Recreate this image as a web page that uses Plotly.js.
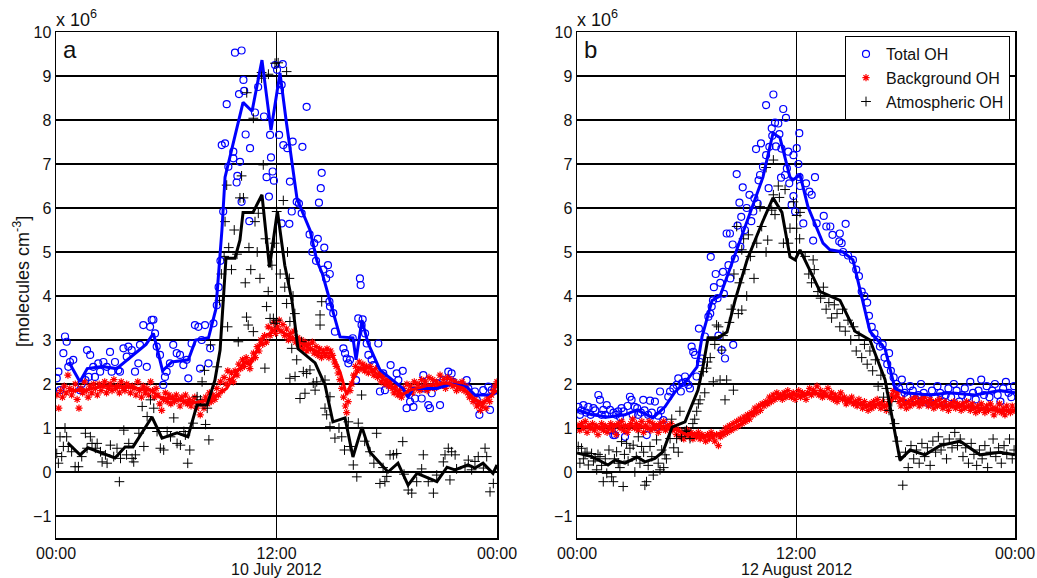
<!DOCTYPE html>
<html><head><meta charset="utf-8">
<script src="https://cdn.plot.ly/plotly-3.0.1.min.js"></script>
<style>html,body{margin:0;padding:0;background:#fff}#g{width:1037px;height:578px}</style>
</head><body><div id="g"></div>
<script>
// ---------- Panel a : 10 July 2012 (hours, 1e6 molecules cm-3) ----------
const totA_t = [0.04,0.13,0.22,0.4,0.49,0.58,0.67,0.76,0.94,1.31,1.4,1.6,1.69,1.78,1.86,2.03,2.12,2.3,2.4,2.58,2.76,2.94,3.03,3.21,3.39,3.48,3.67,3.85,3.94,4.12,4.3,4.48,4.57,4.75,4.94,5.12,5.21,5.3,5.39,5.48,5.66,5.84,5.93,6.02,6.2,6.38,6.57,6.75,6.93,7.11,7.2,7.38,7.56,7.75,7.84,7.93,8.11,8.3,8.39,8.57,8.75,8.85,8.95,9.02,9.1,9.2,9.29,9.38,9.65,9.65,9.74,9.83,9.87,9.96,10.01,10.1,10.1,10.2,10.24,10.32,10.52,10.56,10.83,11.0,11.32,11.46,11.59,11.65,11.7,11.79,11.86,11.92,12.03,12.14,12.19,12.28,12.28,12.34,12.37,12.59,12.7,12.73,12.83,12.88,13.1,13.22,13.37,13.41,13.64,13.8,13.95,14.05,14.15,14.25,14.31,14.41,14.46,14.55,14.6,14.7,14.8,14.88,14.9,14.91,15.09,15.18,15.64,15.73,15.82,15.91,16.0,16.15,16.33,16.45,16.54,16.58,16.63,16.69,16.82,16.91,17.0,17.18,17.27,17.54,17.63,17.81,17.9,18.21,18.54,18.63,18.87,19.08,19.27,19.45,19.54,19.9,19.99,20.05,20.26,20.35,20.45,20.72,20.9,21.08,21.35,21.53,21.62,21.99,22.35,22.44,22.8,22.9,23.04,23.25,23.53,23.62,23.71,23.89];
const totA_v = [2.13,2.28,1.86,2.7,3.08,2.96,2.39,2.5,2.55,1.86,2.0,2.09,2.77,2.16,2.66,2.39,2.16,2.47,2.28,2.5,2.39,2.73,2.28,2.5,2.31,2.28,2.81,2.62,2.85,2.77,2.28,2.47,2.89,3.34,2.39,3.3,3.46,3.46,3.15,2.85,2.66,1.98,2.16,2.28,2.47,2.89,2.7,2.66,2.43,2.55,2.13,2.92,3.34,3.3,2.35,3.0,3.34,2.47,2.81,3.38,3.79,4.2,4.8,7.43,5.92,7.47,8.36,6.94,7.28,7.13,9.53,6.58,6.73,8.59,7.05,9.58,6.14,8.91,8.66,7.67,5.7,7.36,8.17,8.75,8.08,6.7,6.26,7.66,7.15,6.83,6.62,9.25,9.14,7.66,8.68,8.8,5.65,9.27,7.43,7.36,5.64,6.6,5.92,7.51,6.14,6.1,5.88,7.39,8.3,5.4,5.0,5.2,4.8,5.3,6.12,6.45,6.8,4.6,5.1,4.4,4.7,3.87,4.5,3.76,3.61,3.19,2.81,2.7,2.58,2.47,2.55,3.04,2.09,3.49,4.4,4.25,3.34,3.47,3.15,2.92,2.66,2.55,2.43,2.92,1.83,2.24,1.86,2.43,2.24,2.09,2.3,1.45,1.6,1.48,1.67,1.67,2.2,1.9,1.52,1.45,1.79,2.02,1.52,2.09,2.28,2.24,2.05,1.98,2.09,1.9,1.83,1.64,1.3,1.86,1.94,1.41,1.86,1.9];

const bgA_t = [0.05,0.15,0.25,0.35,0.45,0.55,0.65,0.75,0.85,0.95,1.05,1.15,1.25,1.35,1.45,1.55,1.65,1.75,1.85,1.95,2.05,2.15,2.25,2.35,2.45,2.55,2.65,2.75,2.85,2.95,3.05,3.15,3.25,3.35,3.45,3.55,3.65,3.75,3.85,3.95,4.05,4.15,4.25,4.35,4.45,4.55,4.65,4.75,4.85,4.95,5.05,5.15,5.25,5.35,5.45,5.55,5.65,5.75,5.85,5.95,6.05,6.15,6.25,6.35,6.45,6.55,6.65,6.75,6.85,6.95,7.05,7.15,7.25,7.35,7.45,7.55,7.65,7.75,7.85,7.95,8.05,8.15,8.25,8.35,8.45,8.55,8.65,8.75,8.85,8.95,9.05,9.15,9.25,9.35,9.45,9.55,9.65,9.75,9.85,9.95,10.05,10.15,10.25,10.35,10.45,10.55,10.65,10.75,10.85,10.95,11.05,11.15,11.25,11.35,11.45,11.55,11.65,11.75,11.85,11.95,12.05,12.15,12.25,12.35,12.45,12.55,12.65,12.75,12.85,12.95,13.05,13.15,13.25,13.35,13.45,13.55,13.65,13.75,13.85,13.95,14.05,14.15,14.25,14.35,14.45,14.55,14.65,14.75,14.85,14.95,15.05,15.15,15.25,15.35,15.45,15.55,15.65,15.75,15.82,15.9,16.0,16.1,16.2,16.3,16.4,16.5,16.6,16.7,16.8,16.9,17.0,17.1,17.2,17.3,17.4,17.5,17.6,17.7,17.8,17.9,18.0,18.1,18.2,18.3,18.4,18.5,18.6,18.7,18.8,18.9,19.0,19.1,19.2,19.3,19.4,19.5,19.6,19.7,19.8,19.9,20.0,20.1,20.2,20.3,20.4,20.5,20.6,20.7,20.8,20.9,21.0,21.1,21.2,21.3,21.4,21.5,21.6,21.7,21.8,21.9,22.0,22.1,22.2,22.3,22.4,22.5,22.6,22.7,22.8,22.9,23.0,23.1,23.2,23.3,23.4,23.5,23.6,23.7,23.8,23.9,24.0];
const bgA_v = [1.75,1.45,1.85,1.7,1.95,1.8,2.2,1.9,1.75,1.85,2.0,1.65,1.45,1.9,1.8,2.05,1.85,1.7,1.95,1.8,2.0,1.9,1.75,2.0,1.85,1.95,2.05,1.8,1.9,2.0,1.85,2.1,1.9,1.95,1.8,2.05,1.9,1.85,2.0,1.95,1.8,1.95,1.9,1.75,2.05,1.85,1.7,1.95,1.8,1.9,1.75,2.05,1.85,1.7,1.9,1.75,1.55,1.4,1.65,1.8,1.6,1.75,1.55,1.7,1.6,1.75,1.65,1.5,1.7,1.6,1.75,1.55,1.65,1.5,1.6,1.7,1.45,1.55,1.3,1.6,1.45,1.7,1.55,1.8,1.6,1.75,1.65,1.9,1.75,2.05,1.85,2.15,2.0,2.3,2.1,2.25,2.05,2.3,2.2,2.45,2.35,2.55,2.4,2.6,2.5,2.35,2.55,2.7,2.6,2.85,2.75,3.0,2.9,3.1,2.95,3.3,3.1,3.25,3.4,3.15,3.3,3.45,3.2,3.35,3.1,3.25,3.0,3.15,3.05,3.2,2.95,3.05,2.85,3.0,2.8,2.95,2.75,2.9,2.8,2.95,2.7,2.85,2.65,2.8,2.6,2.75,2.65,2.8,2.6,2.75,2.65,2.5,2.4,2.25,2.1,1.9,1.7,1.5,1.35,1.6,1.85,2.0,2.2,2.4,2.3,2.5,2.35,2.45,2.3,2.4,2.25,2.4,2.3,2.2,2.35,2.15,2.25,2.05,2.2,2.0,2.1,1.95,2.05,1.9,1.8,1.95,1.75,1.85,1.7,1.9,1.8,2.0,1.85,1.95,1.8,2.05,1.9,2.0,1.85,2.1,1.95,2.05,1.85,2.15,1.95,2.1,1.9,2.05,1.95,2.2,2.0,2.1,1.9,2.15,2.0,2.1,1.95,2.05,1.85,2.0,1.9,2.05,1.85,1.95,1.8,1.7,1.75,1.6,1.65,1.5,1.55,1.4,1.5,1.6,1.45,1.7,1.6,1.75,1.85,1.95,2.05];

const atmA_t = [0.04,0.13,0.22,0.31,0.4,0.49,0.58,0.67,0.85,1.04,1.22,1.4,1.6,1.69,1.87,1.96,2.14,2.24,2.42,2.51,2.69,2.78,2.96,3.14,3.32,3.45,3.51,3.69,3.84,3.96,4.14,4.23,4.32,4.51,4.69,4.78,4.96,5.14,5.32,5.5,5.68,5.86,6.05,6.23,6.41,6.59,6.77,6.96,7.04,7.17,7.28,7.46,7.68,7.86,7.95,8.08,8.14,8.23,8.32,8.41,8.77,8.9,9.0,9.15,9.2,9.29,9.34,9.4,9.55,9.7,9.85,9.92,10.01,10.1,10.2,10.3,10.37,10.38,10.46,10.5,10.6,10.74,10.74,10.83,10.95,11.01,11.1,11.19,11.19,11.28,11.37,11.4,11.46,11.55,11.56,11.65,11.75,11.83,11.9,11.92,11.92,12.0,12.01,12.09,12.2,12.37,12.45,12.55,12.55,12.6,12.7,12.73,12.73,12.83,12.9,13.0,13.01,13.1,13.28,13.37,13.46,13.55,13.64,13.82,14.0,14.1,14.19,14.37,14.37,14.46,14.64,14.64,14.73,14.91,14.91,15.18,15.4,15.55,15.7,15.91,16.0,16.18,16.37,16.45,16.63,16.8,17.09,17.3,17.45,17.63,17.8,17.9,18.0,18.18,18.36,18.54,18.87,18.94,19.17,19.36,19.63,19.9,19.99,20.26,20.54,20.72,21.08,21.17,21.35,21.44,21.53,21.72,21.8,22.26,22.44,22.62,22.8,22.98,23.26,23.35,23.44,23.62,23.8];
const atmA_v = [0.42,0.2,0.8,0.35,0.58,1.0,0.8,0.58,0.46,0.12,0.12,0.35,0.88,0.54,0.8,0.65,0.54,0.65,0.46,0.23,0.39,0.2,0.61,0.35,0.54,-0.22,0.31,0.95,0.39,0.65,0.31,0.23,0.39,0.88,1.49,0.58,1.26,1.64,1.45,0.92,0.54,0.5,0.92,0.8,1.23,0.65,0.61,0.92,0.84,0.2,0.5,1.11,1.71,1.64,2.05,2.31,1.08,1.45,0.73,2.89,2.39,3.9,4.5,4.9,5.69,6.52,3.3,5.1,4.6,5.5,4.95,2.96,6.23,6.73,6.23,4.3,3.52,8.62,3.34,5.1,4.6,8.04,3.19,5.69,5.0,5.88,4.4,9.08,8.95,6.98,2.36,5.3,3.76,4.1,9.04,3.49,4.7,3.49,5.2,9.29,3.38,3.45,5.92,9.3,4.5,6.17,4.2,9.1,3.83,5.0,4.4,3.42,2.13,2.81,4.0,3.6,2.17,2.55,1.67,2.96,2.28,1.79,2.24,2.32,2.02,1.86,2.05,3.57,3.34,3.87,2.09,1.45,1.3,1.71,1.03,0.77,1.0,0.8,0.5,1.14,0.58,0.16,-0.11,1.11,1.75,0.7,0.46,0.2,0.88,-0.26,0.1,-0.22,-0.1,0.39,0.39,0.42,0.69,-0.05,-0.41,-0.48,-0.22,0.07,0.39,-0.22,-0.48,-0.07,0.23,0.39,0.54,-0.18,0.46,0.39,0.07,0.12,0.27,0.05,0.24,0.35,0.09,0.54,0.35,-0.45,-0.26];

const totA_line_t = [0.7,1.3,1.7,2.5,3.3,4.0,4.9,5.3,5.8,6.3,7.2,7.6,8.3,8.7,9.03,9.2,10.18,10.67,11.21,11.7,12.19,12.52,13.12,13.82,14.2,14.5,14.91,15.46,16.16,16.33,16.65,16.98,17.63,18.88,19.16,19.43,20.73,21.55,22.37,22.8,23.62,24.0];
const totA_line_v = [2.5,2.05,2.35,2.4,2.35,2.6,2.9,3.15,2.3,2.5,2.55,3.0,3.05,3.7,5.5,6.7,8.4,8.2,9.36,7.77,9.07,8.0,6.2,5.5,4.8,4.5,3.9,3.07,3.05,2.55,3.45,2.93,2.32,1.9,1.7,1.9,1.9,2.0,1.93,1.75,1.75,1.8];
const bgA_line_t = [0.67,1.5,2.5,3.5,4.5,5.2,5.66,6.5,7.47,8.38,9.29,9.8,10.29,10.56,11.28,11.65,12.01,12.73,13.64,14.37,15.0,15.46,15.82,16.1,16.45,17.09,18.0,18.83,19.27,20.35,21.26,22.17,22.8,23.26,23.71,24.0];
const bgA_line_v = [1.85,1.85,1.95,1.95,1.9,1.85,1.7,1.65,1.57,1.64,1.9,2.25,2.5,2.43,3.07,3.15,3.27,3.07,2.85,2.7,2.7,2.27,1.75,2.05,2.36,2.36,2.05,1.75,1.86,1.98,2.02,1.91,1.64,1.57,1.75,1.86];
const atmA_line_t = [0.65,1.31,1.74,2.39,3.21,3.76,4.19,5.22,5.77,6.59,7.18,7.67,8.22,8.65,8.93,9.25,9.74,10.01,10.18,10.72,11.21,11.62,12.05,12.45,12.84,13.17,14.1,14.64,15.07,15.73,16.16,16.65,17.09,18.07,18.61,19.16,19.65,20.73,21.28,21.71,22.42,22.8,23.24,23.78,24.0];
const atmA_line_v = [0.66,0.39,0.55,0.45,0.32,0.57,0.57,1.25,0.77,0.89,0.8,1.52,1.52,2.09,2.77,4.86,4.86,5.27,5.9,5.9,6.3,4.65,5.93,4.7,3.9,2.8,2.48,1.98,1.14,1.23,0.34,1.02,0.45,0.0,0.2,-0.3,-0.03,-0.22,0.11,0.05,0.16,0.09,0.2,-0.03,0.16];

// ---------- Panel b : 12 August 2012 ----------
const totB_t = [0.07,0.16,0.25,0.35,0.5,0.62,0.75,0.9,1.0,1.17,1.26,1.35,1.44,1.55,1.63,1.81,1.9,1.99,2.0,2.08,2.15,2.26,2.35,2.44,2.55,2.63,2.77,2.9,2.99,3.05,3.17,3.3,3.35,3.5,3.63,3.7,3.82,3.9,4.0,4.1,4.27,4.36,4.45,4.55,4.6,4.73,5.0,5.1,5.28,5.46,5.55,5.69,5.75,5.92,5.97,6.1,6.19,6.28,6.37,6.47,6.55,6.68,6.74,6.83,7.01,7.2,7.3,7.33,7.38,7.45,7.5,7.6,7.7,7.75,7.85,7.93,8.0,8.05,8.11,8.2,8.3,8.38,8.4,8.53,8.56,8.65,8.75,8.8,8.9,8.95,9.0,9.08,9.2,9.3,9.45,9.55,9.66,9.72,9.81,9.9,9.95,10.03,10.08,10.19,10.36,10.36,10.5,10.54,10.67,10.7,10.76,10.85,10.9,11.03,11.09,11.18,11.2,11.3,11.4,11.45,11.5,11.58,11.63,11.76,11.86,11.86,11.95,12.04,12.13,12.18,12.19,12.22,12.4,12.55,12.73,12.86,12.94,13.04,13.13,13.52,13.66,13.88,14.0,14.37,14.4,14.5,14.58,14.72,14.85,15.12,15.3,15.45,15.6,15.75,15.9,16.0,16.15,16.3,16.45,16.6,16.75,16.85,17.0,17.1,17.2,17.35,17.5,17.65,17.8,17.95,18.1,18.25,18.4,18.55,18.7,18.85,19.0,19.15,19.3,19.45,19.6,19.75,19.9,20.05,20.2,20.35,20.5,20.65,20.8,20.95,21.1,21.25,21.4,21.55,21.7,21.85,22.0,22.15,22.3,22.45,22.6,22.75,22.9,23.05,23.2,23.35,23.5,23.65,23.8,23.95];
const totB_v = [1.48,1.3,1.4,1.52,1.35,1.48,1.3,1.45,1.4,1.75,1.64,1.3,1.41,1.3,1.52,1.41,0.95,0.84,1.35,0.84,1.3,1.38,1.25,1.45,1.38,0.8,1.5,1.71,1.64,1.3,1.48,1.45,1.3,1.35,1.64,1.4,0.84,1.3,1.62,1.35,1.6,1.02,1.28,1.83,1.4,1.18,1.71,1.83,1.9,1.98,2.13,1.83,2.02,2.17,2.05,1.98,1.9,2.85,2.73,2.66,2.17,3.26,2.5,2.58,3.08,3.53,3.6,4.89,3.76,3.9,4.2,4.5,3.95,3.1,4.3,2.77,4.55,4.05,2.58,5.42,4.7,5.42,4.4,5.17,2.89,4.85,6.77,5.6,6.12,5.12,5.8,6.47,5.5,6.0,6.3,5.7,5.92,6.22,7.34,6.1,6.63,6.75,7.47,6.94,7.2,8.34,6.45,7.39,7.81,7.64,8.58,7.94,7.4,7.92,7.68,6.69,7.35,8.25,6.75,8.05,6.9,7.28,6.56,6.07,7.2,6.27,5.92,7.36,7.0,7.7,6.7,6.5,5.65,6.56,6.37,6.3,5.26,6.7,5.65,5.82,5.58,5.58,5.39,5.24,5.42,5.2,5.0,5.64,4.92,4.82,4.6,4.45,4.1,4.0,3.85,3.55,3.3,3.15,3.0,2.85,2.9,2.6,2.45,2.7,2.3,2.15,2.0,1.9,2.1,1.8,1.7,1.95,1.85,1.65,1.75,2.0,1.8,1.7,1.55,1.85,1.7,1.95,1.8,1.6,1.75,1.9,1.7,2.0,1.85,1.6,1.75,1.9,1.7,2.05,1.8,1.65,1.85,2.1,1.75,1.95,1.7,1.85,2.0,1.75,1.6,1.9,2.05,1.8,1.7,1.95];

const bgB_t = [0.05,0.15,0.25,0.35,0.45,0.55,0.65,0.75,0.85,0.95,1.05,1.15,1.25,1.35,1.45,1.55,1.65,1.75,1.85,1.95,2.05,2.15,2.25,2.35,2.45,2.55,2.65,2.75,2.85,2.95,3.05,3.15,3.25,3.35,3.45,3.55,3.65,3.75,3.85,3.95,4.05,4.15,4.25,4.35,4.45,4.55,4.65,4.75,4.85,4.95,5.05,5.15,5.25,5.35,5.45,5.55,5.65,5.75,5.85,5.95,6.05,6.15,6.25,6.35,6.45,6.55,6.65,6.75,6.85,6.95,7.05,7.15,7.25,7.35,7.45,7.55,7.65,7.75,7.85,7.95,8.05,8.15,8.25,8.35,8.45,8.55,8.65,8.75,8.85,8.95,9.05,9.15,9.25,9.35,9.45,9.55,9.65,9.75,9.85,9.95,10.05,10.15,10.25,10.35,10.45,10.55,10.65,10.75,10.85,10.95,11.05,11.15,11.25,11.35,11.45,11.55,11.65,11.75,11.85,11.95,12.05,12.15,12.25,12.35,12.45,12.55,12.65,12.75,12.85,12.95,13.05,13.15,13.25,13.35,13.45,13.55,13.65,13.75,13.85,13.95,14.05,14.15,14.25,14.35,14.45,14.55,14.65,14.75,14.85,14.95,15.05,15.15,15.25,15.35,15.45,15.55,15.65,15.75,15.85,15.95,16.05,16.15,16.25,16.35,16.45,16.55,16.65,16.75,16.85,16.95,17.05,17.15,17.25,17.35,17.45,17.55,17.65,17.75,17.85,17.95,18.05,18.15,18.25,18.35,18.45,18.55,18.65,18.75,18.85,18.95,19.05,19.15,19.25,19.35,19.45,19.55,19.65,19.75,19.85,19.95,20.05,20.15,20.25,20.35,20.45,20.55,20.65,20.75,20.85,20.95,21.05,21.15,21.25,21.35,21.45,21.55,21.65,21.75,21.85,21.95,22.05,22.15,22.25,22.35,22.45,22.55,22.65,22.75,22.85,22.95,23.05,23.15,23.25,23.35,23.45,23.55,23.65,23.75,23.85,23.95];
const bgB_v = [1.05,0.95,1.1,1.0,1.15,0.9,1.05,1.0,1.1,0.95,1.05,0.85,1.0,1.1,0.95,1.05,0.9,1.0,1.1,0.95,1.05,0.85,1.1,1.0,1.15,0.95,1.05,0.9,1.0,1.1,1.2,1.0,1.1,0.95,1.05,1.15,0.9,1.05,1.0,1.15,0.95,1.1,1.0,1.05,0.9,1.1,1.0,1.15,0.95,1.05,1.0,1.1,0.95,1.0,0.85,0.95,0.8,0.9,0.75,0.85,0.95,0.8,0.9,0.75,0.85,0.8,0.9,0.75,0.85,0.8,0.7,0.85,0.75,0.9,0.8,0.7,0.85,0.6,0.8,0.9,0.85,1.0,0.9,1.05,0.95,1.1,1.0,1.15,1.05,1.2,1.1,1.25,1.15,1.3,1.2,1.35,1.3,1.45,1.35,1.5,1.4,1.55,1.5,1.6,1.55,1.7,1.6,1.75,1.65,1.8,1.7,1.75,1.65,1.8,1.7,1.85,1.75,1.7,1.8,1.65,1.75,1.85,1.7,1.8,1.75,1.65,1.8,1.9,1.75,1.85,1.8,1.95,1.75,1.85,1.7,1.8,1.75,1.9,1.7,1.8,1.65,1.75,1.6,1.7,1.8,1.65,1.7,1.55,1.65,1.6,1.7,1.55,1.6,1.5,1.65,1.55,1.45,1.6,1.5,1.4,1.55,1.45,1.6,1.5,1.65,1.55,1.45,1.6,1.5,1.4,1.55,1.65,1.75,1.85,1.7,1.8,1.6,1.5,1.65,1.55,1.45,1.6,1.5,1.65,1.55,1.7,1.6,1.5,1.65,1.55,1.7,1.6,1.5,1.65,1.55,1.45,1.6,1.5,1.65,1.55,1.45,1.6,1.5,1.4,1.55,1.5,1.6,1.45,1.55,1.5,1.4,1.55,1.45,1.6,1.5,1.4,1.55,1.45,1.35,1.5,1.4,1.55,1.45,1.35,1.5,1.4,1.55,1.45,1.3,1.45,1.4,1.55,1.35,1.45,1.3,1.5,1.4,1.35,1.5,1.4];

const atmB_t = [0.07,0.16,0.25,0.35,0.44,0.55,0.62,0.8,0.9,0.99,1.08,1.15,1.26,1.35,1.44,1.55,1.63,1.75,1.9,1.99,2.05,2.17,2.26,2.35,2.44,2.53,2.6,2.72,2.8,2.9,3.08,3.17,3.25,3.36,3.45,3.54,3.65,3.72,3.81,3.9,4.0,4.1,4.18,4.36,4.45,4.55,4.64,4.75,4.82,4.9,5.1,5.19,5.3,5.46,5.55,5.64,5.73,5.92,6.0,6.19,6.35,6.45,6.56,6.65,6.74,6.92,7.0,7.1,7.15,7.3,7.47,7.55,7.65,7.75,7.84,7.93,8.0,8.11,8.2,8.35,8.45,8.57,8.6,8.75,8.84,8.9,9.03,9.03,9.13,9.2,9.3,9.39,9.5,9.7,9.85,10.03,10.12,10.36,10.36,10.45,10.67,10.76,10.76,10.85,11.03,11.09,11.31,11.4,11.58,11.67,11.86,12.04,12.04,12.2,12.22,12.5,12.7,12.85,12.94,13.0,13.2,13.35,13.5,13.65,13.8,13.95,14.1,14.25,14.4,14.55,14.7,14.85,15.0,15.15,15.3,15.45,15.6,15.75,15.9,16.05,16.2,16.35,16.5,16.65,16.8,16.95,17.1,17.25,17.4,17.55,17.7,17.85,18.0,18.15,18.3,18.45,18.6,18.75,18.9,19.05,19.2,19.35,19.5,19.65,19.8,19.95,20.1,20.25,20.4,20.55,20.7,20.85,21.0,21.15,21.3,21.45,21.6,21.75,21.9,22.05,22.2,22.35,22.5,22.65,22.8,22.95,23.1,23.25,23.4,23.55,23.7,23.85,23.95];
const atmB_v = [0.58,0.2,0.54,0.3,0.42,0.45,0.16,0.42,0.25,0.31,0.05,0.4,0.35,0.15,-0.22,0.3,-0.03,0.5,-0.11,-0.22,0.3,0.46,0.2,0.1,0.69,-0.33,0.4,0.65,0.25,0.54,0.61,0.0,0.35,0.8,0.2,0.58,0.45,-0.3,-0.22,0.15,0.58,0.35,-0.07,0.73,0.2,0.05,0.5,0.1,0.39,0.3,0.76,1.2,0.55,0.76,0.45,1.38,0.8,0.92,0.95,0.76,1.1,1.2,1.38,1.55,1.64,2.28,1.8,2.36,2.5,2.6,2.05,2.9,3.34,3.3,2.09,2.77,3.1,1.64,2.09,3.4,3.7,1.86,4.5,5.58,3.6,4.3,3.68,5.05,5.3,4.6,4.0,5.39,4.9,4.4,5.2,6.03,5.58,6.92,5.0,5.27,5.95,7.09,6.3,5.85,6.5,6.24,5.2,6.42,5.2,5.54,6.14,5.83,5.54,5.3,5.9,4.9,4.5,4.3,4.82,4.6,4.1,3.95,4.2,3.7,3.85,3.5,3.8,3.6,3.3,3.7,3.2,3.45,3.0,3.3,2.75,3.1,2.6,2.9,2.45,2.75,2.3,2.55,1.95,2.2,1.7,1.9,1.4,1.6,1.1,0.7,0.35,-0.3,0.45,0.1,0.6,0.3,0.5,0.2,0.65,0.35,0.55,0.15,0.7,0.45,0.8,0.5,0.65,0.3,0.75,0.55,0.9,0.6,0.75,0.35,0.55,0.2,0.65,0.4,0.15,0.5,0.3,0.6,0.1,0.45,0.75,0.35,0.55,0.2,0.6,0.4,0.75,0.3,0.5];

const totB_line_t = [0.0,0.82,1.7,2.63,3.29,4.16,4.82,5.37,6.03,6.58,6.85,7.12,7.4,7.84,8.55,9.48,10.19,10.74,11.12,11.67,11.84,12.22,12.66,13.48,13.86,14.58,15.12,16.05,16.88,17.42,17.97,19.34,20.44,21.8,23.18,24.0];
const totB_line_v = [1.41,1.3,1.25,1.3,1.41,1.23,1.48,1.82,2.09,2.39,3.07,3.45,3.9,4.0,4.82,5.89,6.7,7.7,7.6,6.7,6.64,6.75,6.02,5.2,5.05,5.0,4.82,3.2,2.8,1.9,1.8,1.75,1.8,1.75,1.85,1.8];
const bgB_line_t = [0,1,2,3,4,5,5.5,6,6.5,7,7.5,8,8.5,9,9.5,10,10.5,11,11.5,12,12.5,13,13.5,14,14.5,15,15.5,16,16.5,17,17.5,18,18.5,19,20,21,22,23,24];
const bgB_line_v = [1.05,1.0,1.05,1.05,1.0,1.05,0.95,0.85,0.85,0.8,0.85,0.9,0.95,1.1,1.3,1.5,1.6,1.7,1.75,1.75,1.75,1.8,1.75,1.7,1.65,1.6,1.55,1.5,1.55,1.5,1.75,1.55,1.55,1.6,1.5,1.5,1.45,1.4,1.4];
const atmB_line_t = [0.0,0.82,1.7,2.08,2.63,3.29,3.73,4.27,4.71,5.21,5.92,6.63,6.9,7.18,7.73,8.22,8.66,9.32,10.14,10.74,11.23,11.67,11.95,12.22,13.32,14.41,15.23,16.05,16.88,17.42,17.7,18.25,19.07,19.89,20.99,22.08,23.18,24.0];
const atmB_line_v = [0.43,0.35,0.16,0.27,0.2,0.34,0.23,0.31,0.46,1.02,1.14,1.86,2.39,3.05,3.05,3.18,3.9,4.82,5.66,6.23,5.9,4.89,4.82,5.05,4.1,3.9,3.2,3.0,2.1,0.95,0.27,0.5,0.39,0.6,0.7,0.39,0.45,0.39];

const xTickVals = [0, 12, 24];
const xTickText = ['00:00', '12:00', '00:00'];
const yTickVals = [-1,0,1,2,3,4,5,6,7,8,9,10];
const seriesNames = ['Total OH', 'Background OH', 'Atmospheric OH'];
const dateLabels = ['10 July 2012', '12 August 2012'];
const panelLabels = ['a', 'b'];

// ---------- build ----------
const BLUE = '#0000ff', RED = '#ff0000', BLACK = '#000000';
const FONT = 'Liberation Sans, Arial, sans-serif';
function panel(xa, ya, tot_t, tot_v, bg_t, bg_v, atm_t, atm_v, lt, lv, bt, bv, at, av, leg) {
  return [
    {x: tot_t, y: tot_v, xaxis: xa, yaxis: ya, type: 'scatter', mode: 'markers', name: seriesNames[0], showlegend: leg,
     marker: {symbol: 'circle-open', size: 7, color: BLUE, line: {width: 1.2, color: BLUE}}},
    {x: bg_t, y: bg_v, xaxis: xa, yaxis: ya, type: 'scatter', mode: 'markers', name: seriesNames[1], showlegend: leg,
     marker: {symbol: 'asterisk-open', size: 6, color: RED, line: {width: 1.2, color: RED}}},
    {x: atm_t, y: atm_v, xaxis: xa, yaxis: ya, type: 'scatter', mode: 'markers', name: seriesNames[2], showlegend: leg,
     marker: {symbol: 'cross-thin-open', size: 7, color: BLACK, line: {width: 1, color: '#222'}}},
    {x: lt, y: lv, xaxis: xa, yaxis: ya, type: 'scatter', mode: 'lines', showlegend: false, line: {color: BLUE, width: 3}},
    {x: bt, y: bv, xaxis: xa, yaxis: ya, type: 'scatter', mode: 'lines', showlegend: false, line: {color: RED, width: 3}},
    {x: at, y: av, xaxis: xa, yaxis: ya, type: 'scatter', mode: 'lines', showlegend: false, line: {color: BLACK, width: 3}}
  ];
}
const data = [].concat(
  panel('x', 'y', totA_t, totA_v, bgA_t, bgA_v, atmA_t, atmA_v, totA_line_t, totA_line_v, bgA_line_t, bgA_line_v, atmA_line_t, atmA_line_v, false),
  panel('x2', 'y2', totB_t, totB_v, bgB_t, bgB_v, atmB_t, atmB_v, totB_line_t, totB_line_v, bgB_line_t, bgB_line_v, atmB_line_t, atmB_line_v, true)
);

const W = 1037, H = 578;
const yDom = [(H - 538) / H, (H - 32) / H];
function xax(dom) {
  return {domain: dom, range: [0, 24], tickmode: 'array', tickvals: xTickVals, ticktext: xTickText,
    showgrid: true, gridcolor: BLACK, gridwidth: 1, zeroline: false,
    showline: true, mirror: true, linecolor: BLACK, linewidth: 1.5,
    ticks: 'inside', ticklen: 4, tickcolor: BLACK, tickfont: {family: FONT, size: 16, color: '#111'}, fixedrange: true};
}
function yax(anchor) {
  return {domain: yDom, anchor: anchor, range: [-1.5, 10], tickmode: 'array', tickvals: yTickVals,
    showgrid: true, gridcolor: BLACK, gridwidth: 2, zeroline: false,
    showline: true, mirror: true, linecolor: BLACK, linewidth: 1.5,
    ticks: 'inside', ticklen: 4, tickcolor: BLACK, tickfont: {family: FONT, size: 16, color: '#111'}, fixedrange: true};
}
const xa = xax([56 / W, 497 / W]);
const xb = xax([577 / W, 1015 / W]);
const layout = {
  width: W, height: H, margin: {l: 0, r: 0, t: 0, b: 0}, paper_bgcolor: '#fff', plot_bgcolor: '#fff',
  font: {family: FONT, color: '#111'},
  xaxis: Object.assign(xa, {anchor: 'y'}), yaxis: yax('x'),
  xaxis2: Object.assign(xb, {anchor: 'y2'}), yaxis2: yax('x2'),
  showlegend: true,
  legend: {x: 1010 / W, xanchor: 'right', y: (H - 36) / H, yanchor: 'top', bgcolor: '#fff',
    bordercolor: BLACK, borderwidth: 1, font: {family: FONT, size: 16, color: '#111'}, itemwidth: 30,
    tracegroupgap: 0},
  annotations: [
    {xref: 'paper', yref: 'paper', x: 276.5 / W, y: (H - 569) / H, text: dateLabels[0], showarrow: false,
     font: {family: FONT, size: 16}, xanchor: 'center', yanchor: 'middle'},
    {xref: 'paper', yref: 'paper', x: 796 / W, y: (H - 569) / H, text: dateLabels[1], showarrow: false,
     font: {family: FONT, size: 16}, xanchor: 'center', yanchor: 'middle'},
    {xref: 'paper', yref: 'paper', x: 55 / W, y: (H - 31) / H, text: 'x 10<sup>6</sup>', showarrow: false,
     font: {family: FONT, size: 18}, xanchor: 'left', yanchor: 'bottom', borderpad: 0},
    {xref: 'paper', yref: 'paper', x: 576 / W, y: (H - 31) / H, text: 'x 10<sup>6</sup>', showarrow: false,
     font: {family: FONT, size: 18}, xanchor: 'left', yanchor: 'bottom', borderpad: 0},
    {xref: 'paper', yref: 'paper', x: 61 / W, y: (H - 34) / H, text: panelLabels[0], showarrow: false,
     font: {family: FONT, size: 24}, xanchor: 'left', yanchor: 'top'},
    {xref: 'paper', yref: 'paper', x: 582 / W, y: (H - 34) / H, text: panelLabels[1], showarrow: false,
     font: {family: FONT, size: 24}, xanchor: 'left', yanchor: 'top'},
    {xref: 'paper', yref: 'paper', x: 21 / W, y: (H - 282) / H, text: '[molecules cm<sup>-3</sup>]', showarrow: false,
     textangle: -90, font: {family: FONT, size: 18}, xanchor: 'center', yanchor: 'middle'}
  ]
};
Plotly.newPlot('g', data, layout, {displayModeBar: false, staticPlot: true});
</script></body></html>
